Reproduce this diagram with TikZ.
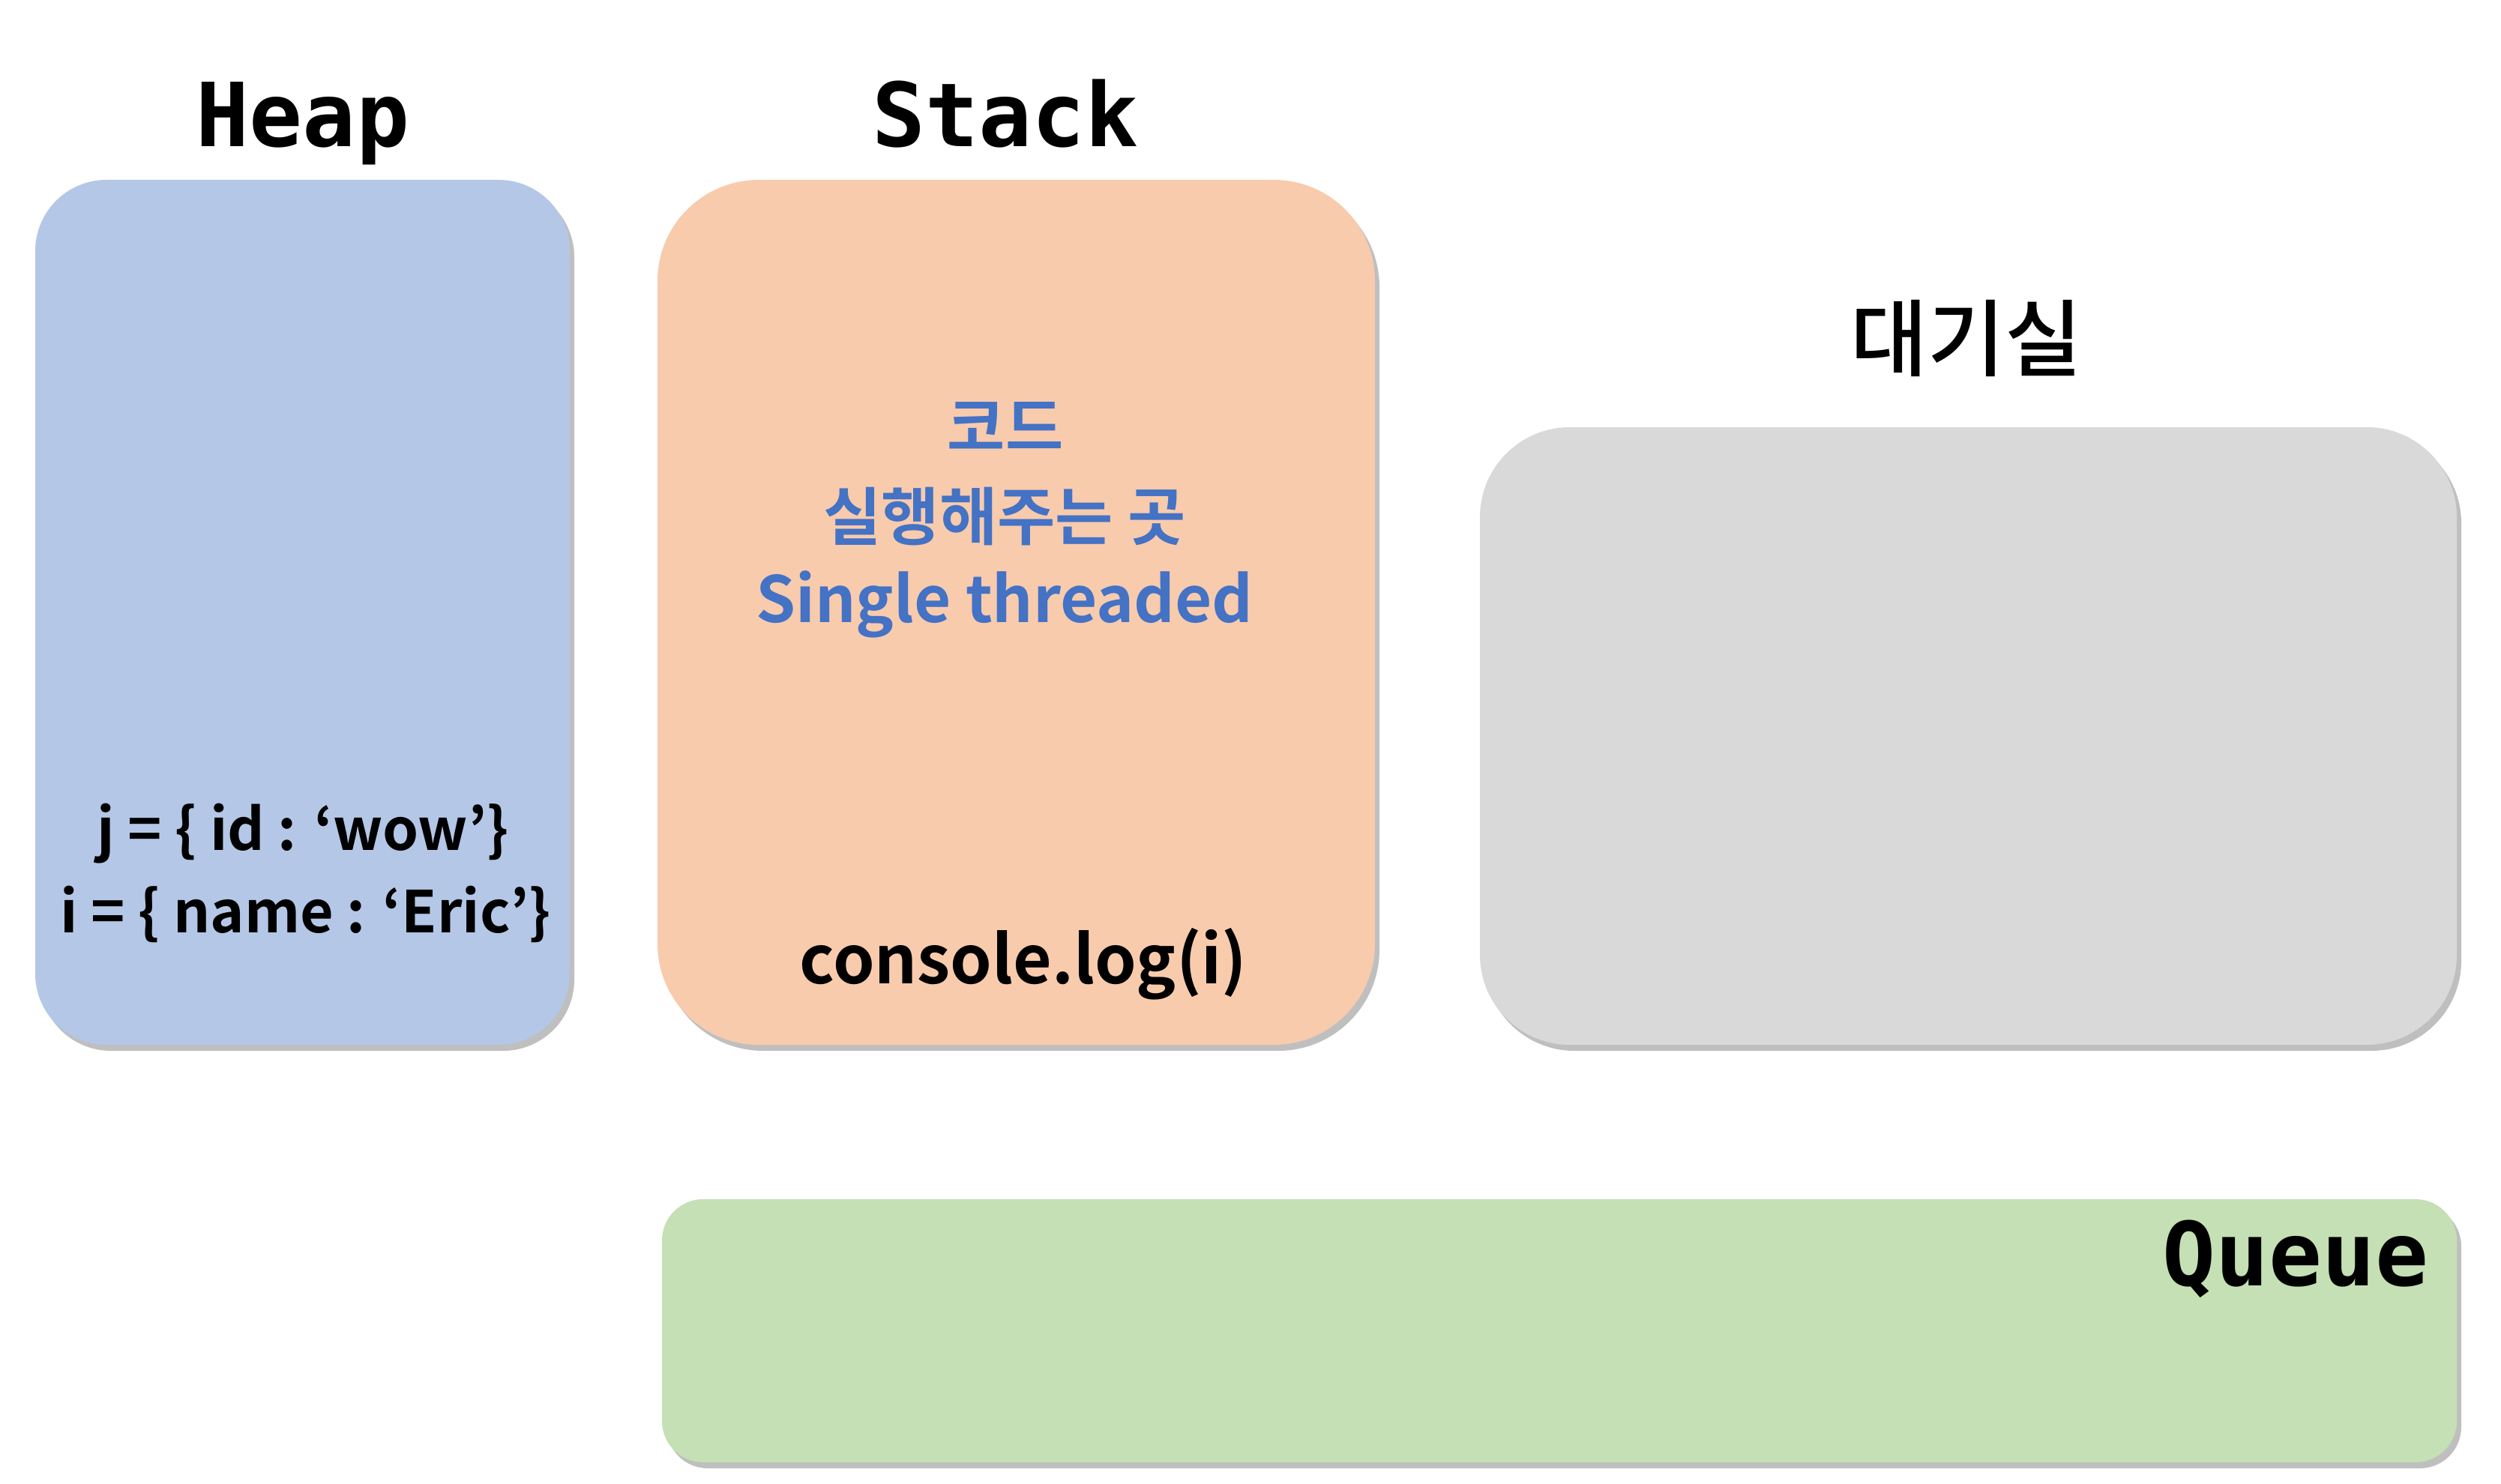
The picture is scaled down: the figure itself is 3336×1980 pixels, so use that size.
\documentclass[tikz,border=0pt]{standalone}
\usepackage{fontspec}
\usetikzlibrary{shadows}
\newfontfamily\kob{Noto Sans CJK KR Bold}
\newfontfamily\kor{Noto Sans CJK KR Medium}
\newfontfamily\pix{DejaVu Sans Mono Bold}
\definecolor{heapc}{HTML}{B4C7E7}
\definecolor{stackc}{HTML}{F8CBAD}
\definecolor{waitc}{HTML}{D9D9D9}
\definecolor{queuec}{HTML}{C5E0B4}
\definecolor{bluetxt}{HTML}{4472C4}
\tikzset{
  box/.style={draw=none, inner sep=0pt,
    drop shadow={shadow xshift=6pt, shadow yshift=-8pt, fill=black, opacity=0.25}},
  title/.style={font=\pix\fontsize{118}{130}\selectfont, inner sep=0pt, text=black},
  code/.style={font=\kob\fontsize{77}{90}\selectfont, inner sep=0pt, text=black},
}
\begin{document}
\begin{tikzpicture}[x=1pt,y=-1pt]
\fill[white] (0,0) rectangle (3336,1980);
\useasboundingbox (0,0) rectangle (3336,1980);
% boxes
\node[box, fill=heapc, rounded corners=95pt, minimum width=713pt, minimum height=1154pt] (heap) at (403.5,817) {};
\node[box, fill=stackc, rounded corners=135pt, minimum width=957pt, minimum height=1154pt] (stack) at (1355.5,817) {};
\node[box, fill=waitc, rounded corners=120pt, minimum width=1303pt, minimum height=824pt] (wait) at (2625.5,982) {};
\node[box, fill=queuec, rounded corners=55pt, minimum width=2394pt, minimum height=351pt] (queue) at (2080,1775.5) {};
% titles
\node[title, anchor=base] (heapt) at (404,196) {Heap};
\node[title, anchor=base] (stackt) at (1341,196) {Stack};
\node[font=\kor\fontsize{112}{120}\selectfont, inner sep=0pt] (waitt) at (2623,451) {대기실};
\node[title, anchor=base east] (queuet) at (3240,1715) {Queue};
% heap content
\node[code, anchor=base] (hj) at (404,1134) {j = \{ id : ‘wow’\}};
\node[code, anchor=base] (hi) at (408,1244) {i = \{ name : ‘Eric’\}};
% stack content
\node[font=\kob\fontsize{84}{112}\selectfont, text=bluetxt, inner sep=0pt, anchor=base] (k1) at (1341,600) {코드};
\node[font=\kob\fontsize{84}{112}\selectfont, text=bluetxt, inner sep=0pt, anchor=base] (k2) at (1340,720) {실행해주는 곳};
\node[font=\kob\fontsize{85}{112}\selectfont, text=bluetxt, inner sep=0pt, anchor=base] (k3) at (1340,830) {Single threaded};
\node[font=\kob\fontsize{89}{100}\selectfont, inner sep=0pt, anchor=base] (clog) at (1365,1312) {console.log(i)};
\end{tikzpicture}
\end{document}
